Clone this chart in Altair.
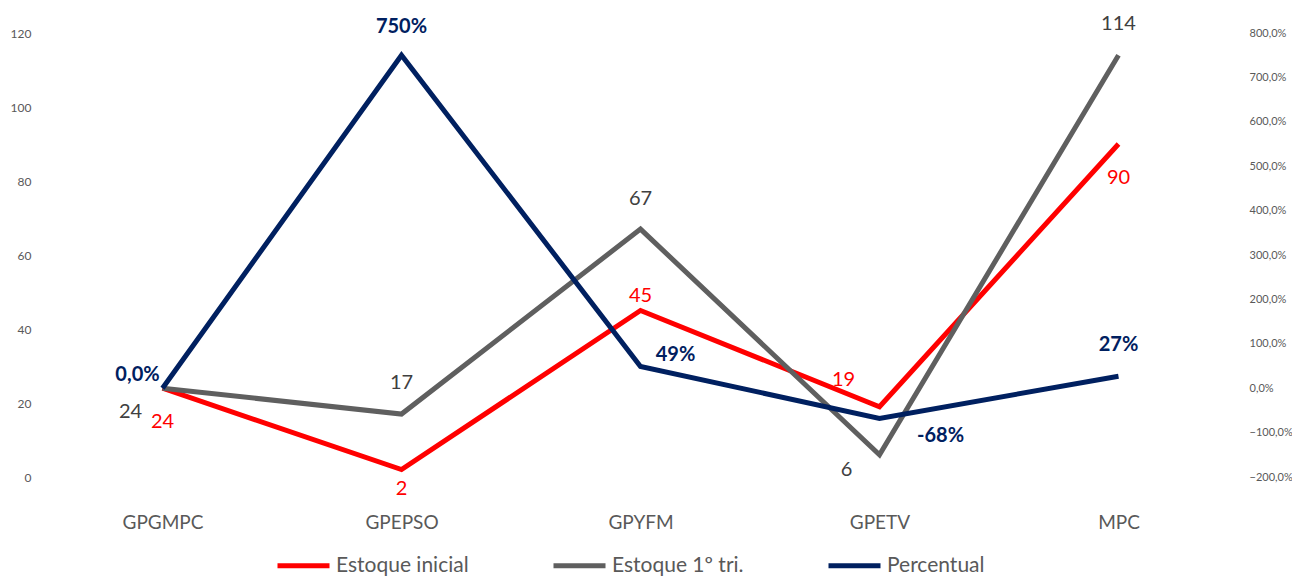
import altair as alt
import pandas as pd

categorias = ["GPGMPC", "GPEPSO", "GPYFM", "GPETV", "MPC"]
estoque_inicial = [24, 2, 45, 19, 90]
estoque_1tri = [24, 17, 67, 6, 114]
percentual = [0.0, 750, 49, -68, 27]
percentual_rotulos = ["0,0%", "750%", "49%", "-68%", "27%"]
series = ["Estoque inicial", "Estoque 1º tri.", "Percentual"]
cores = ["#FF0000", "#5F5F5F", "#002060"]

# label offsets (style only): (dx, dy) per point
off_inicial = [(0, 34), (0, 19), (0, -15), (-36, -27), (0, 34)]
off_1tri = [(-32, 24), (0, -31), (0, -30), (-33, 15), (0, -31)]
off_pct = [(-25, -13), (0, -28), (35, -11), (61, 18), (0, -31)]

FONT = "Lato"

df_left = pd.DataFrame({
    "cat": categorias * 2,
    "ordem": list(range(5)) * 2,
    "valor": estoque_inicial + estoque_1tri,
    "serie": [series[0]] * 5 + [series[1]] * 5,
    "rotulo": [str(v) for v in estoque_inicial + estoque_1tri],
})
df_right = pd.DataFrame({
    "cat": categorias,
    "ordem": list(range(5)),
    "pct": percentual,
    "serie": [series[2]] * 5,
    "rotulo": percentual_rotulos,
})

xenc = alt.X("cat:N", sort=categorias,
             scale=alt.Scale(type="point", padding=0.5),
             axis=alt.Axis(title=None, domain=False, ticks=False, labelAngle=0,
                           labelFontSize=19, labelColor="#595959", labelFont=FONT,
                           labelPadding=36))
color = alt.Color("serie:N", scale=alt.Scale(domain=series, range=cores),
                  legend=alt.Legend(title=None, orient="none", direction="horizontal",
                                    legendX=232, legendY=504,
                                    symbolType="stroke", symbolSize=2704,
                                    symbolStrokeWidth=5, labelFontSize=21,
                                    labelColor="#595959", labelFont=FONT,
                                    labelOffset=4, columnPadding=74))

yleft = alt.Y("valor:Q", scale=alt.Scale(domain=[0, 120]),
              axis=alt.Axis(title=None, domain=False, ticks=False, grid=False,
                            values=[0, 20, 40, 60, 80, 100, 120], labelFontSize=12,
                            labelColor="#595959", labelFont=FONT, labelPadding=12))
yright = alt.Y("pct:Q", scale=alt.Scale(domain=[-200, 800]),
               axis=alt.Axis(title=None, domain=False, ticks=False, grid=False,
                             orient="right",
                             values=[-200, -100, 0, 100, 200, 300, 400, 500, 600, 700, 800],
                             labelExpr="replace(format(datum.value, '.1f'), '.', ',') + '%'",
                             labelFontSize=11, labelColor="#595959", labelFont=FONT,
                             labelPadding=11))

line_order = alt.Order("ordem:Q")

left_layers = [
    alt.Chart(df_left).mark_line(strokeWidth=5).encode(x=xenc, y=yleft, color=color,
                                                        order=line_order)
    .transform_filter(alt.datum.serie == series[0]),
    alt.Chart(df_left).mark_line(strokeWidth=5).encode(x=xenc, y=yleft, color=color,
                                                        order=line_order)
    .transform_filter(alt.datum.serie == series[1]),
]
for s, offs, tc in [(series[0], off_inicial, "#FF0000"), (series[1], off_1tri, "#404040")]:
    for c, (dx, dy) in zip(categorias, offs):
        left_layers.append(
            alt.Chart(df_left).mark_text(dx=dx, dy=dy, fontSize=20, font=FONT, color=tc)
            .encode(x=xenc, y=yleft, text="rotulo:N")
            .transform_filter((alt.datum.serie == s) & (alt.datum.cat == c))
        )

right_layers = [
    alt.Chart(df_right).mark_line(strokeWidth=5).encode(x=xenc, y=yright, color=color,
                                                         order=line_order)
]
for c, (dx, dy) in zip(categorias, off_pct):
    right_layers.append(
        alt.Chart(df_right).mark_text(dx=dx, dy=dy, fontSize=20, font=FONT,
                                      fontWeight="bold", color="#002060")
        .encode(x=xenc, y=yright, text="rotulo:N")
        .transform_filter(alt.datum.cat == c)
    )

left = alt.layer(*left_layers)
right = alt.layer(*right_layers)

chart = alt.layer(left, right).resolve_scale(y="independent").properties(
    width=1195, height=444,
    autosize=alt.AutoSizeParams(type="none"),
    padding={"left": 35, "top": 25, "right": 54, "bottom": 102},
).configure_view(stroke=None)

chart.save("out.html", embed_options={"renderer": "svg", "actions": False})
